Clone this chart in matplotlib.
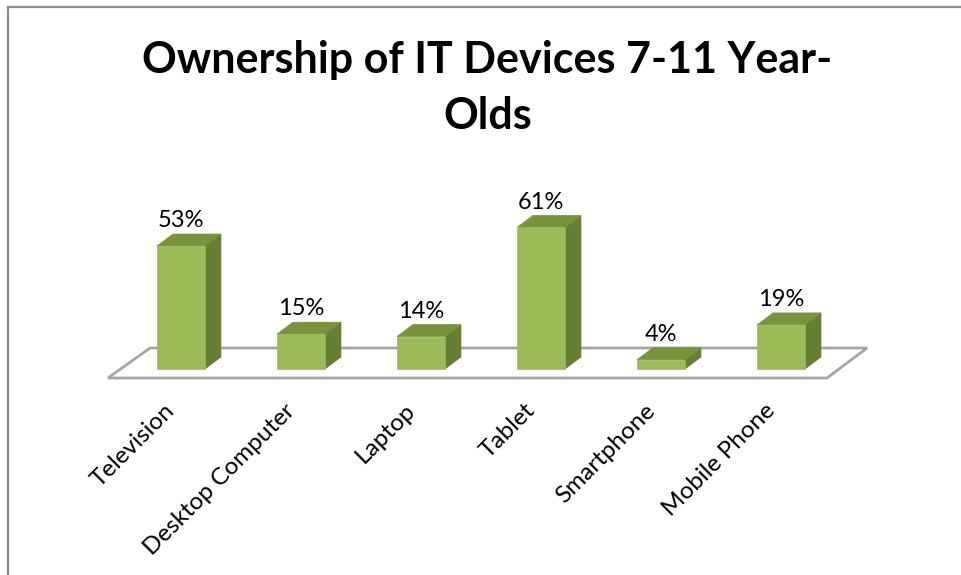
import matplotlib
matplotlib.use("Agg")
import matplotlib.pyplot as plt
from matplotlib.patches import Polygon
from matplotlib.lines import Line2D

categories = ["Television", "Desktop Computer", "Laptop", "Tablet", "Smartphone", "Mobile Phone"]
values = [53, 15, 14, 61, 4, 19]
value_labels = ["53%", "15%", "14%", "61%", "4%", "19%"]
title_lines = ["Ownership of IT Devices 7-11 Year-", "Olds"]

plt.rcParams["font.family"] = ["Lato", "DejaVu Sans"]

FRONT = "#9BBB59"
TOP = "#77933C"
SIDE = "#657F35"
FLOOR = "#A6A6A6"

fig = plt.figure(figsize=(9.62, 5.75), dpi=100)
ax = fig.add_axes([0, 0, 1, 1])
ax.set_xlim(-1.508, 6.508)
ax.set_ylim(-88.8, 159.05)
ax.axis("off")

# 3d depth offsets (x in category units, y in percent units)
half_w = 0.2
ddx, ddy = 0.133, 5.17

# floor of the 3d plot
floor = Polygon([(-0.608, -3.88), (5.383, -3.88), (5.717, 9.05), (-0.258, 9.05)],
                closed=True, facecolor="none", edgecolor=FLOOR, linewidth=2, zorder=1)
ax.add_patch(floor)

for i, v in enumerate(values):
    l, r = i - half_w, i + half_w
    front = Polygon([(l, 0), (r, 0), (r, v), (l, v)], facecolor=FRONT,
                    edgecolor=FRONT, linewidth=0.5, zorder=3)
    top = Polygon([(l, v), (r, v), (r + ddx, v + ddy), (l + ddx, v + ddy)],
                  facecolor=TOP, edgecolor=TOP, linewidth=0.5, zorder=2)
    side = Polygon([(r, 0), (r + ddx, ddy), (r + ddx, v + ddy), (r, v)],
                   facecolor=SIDE, edgecolor=SIDE, linewidth=0.5, zorder=2)
    for p in (side, top, front):
        ax.add_patch(p)
    ax.text(i, v + ddy + 3.0, value_labels[i], ha="center", va="baseline",
            fontsize=17, color="black", zorder=4)
    ax.text(i - 0.08, -16.5, categories[i], ha="right", va="center",
            rotation=45, rotation_mode="anchor", fontsize=17.5, color="black")

# title
fig.text(0.5068, 1 - 73 / 575, title_lines[0], ha="center", va="baseline",
         fontsize=31, fontweight="bold")
fig.text(0.5068, 1 - 129 / 575, title_lines[1], ha="center", va="baseline",
         fontsize=31, fontweight="bold")

# chart border (top and left visible)
fig.add_artist(Line2D([8 / 962, 1], [1 - 7 / 575, 1 - 7 / 575], color="#8C8C8C", linewidth=1.6))
fig.add_artist(Line2D([8 / 962, 8 / 962], [0, 1 - 7 / 575], color="#8C8C8C", linewidth=1.6))

fig.savefig("out.png", dpi=100)
